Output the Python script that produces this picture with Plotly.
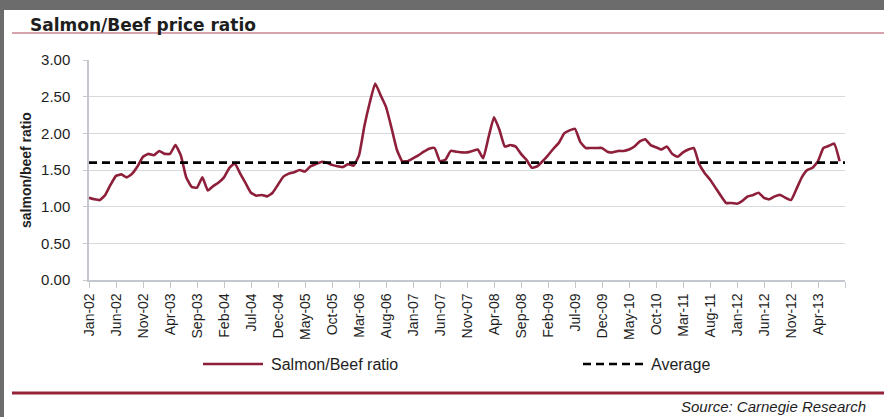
import pandas as pd
import plotly.graph_objects as go

# ---- data ----
START_MONTH = "2002-01-01"
ratio = [
    1.12, 1.10, 1.09, 1.16, 1.30, 1.42, 1.44, 1.40, 1.45, 1.55,
    1.68, 1.72, 1.70, 1.76, 1.72, 1.72, 1.84, 1.70, 1.40, 1.27,
    1.26, 1.40, 1.22, 1.28, 1.33, 1.40, 1.53, 1.59, 1.45, 1.32,
    1.19, 1.15, 1.16, 1.14, 1.19, 1.30, 1.41, 1.45, 1.47, 1.50,
    1.48, 1.55, 1.58, 1.61, 1.60, 1.57, 1.55, 1.54, 1.58, 1.56,
    1.70, 2.10, 2.42, 2.68, 2.52, 2.36, 2.08, 1.78, 1.62, 1.62,
    1.66, 1.70, 1.75, 1.79, 1.80, 1.62, 1.64, 1.76, 1.75, 1.74,
    1.74, 1.76, 1.78, 1.66, 1.95, 2.22, 2.05, 1.82, 1.84, 1.82,
    1.72, 1.64, 1.53, 1.55, 1.62, 1.70, 1.79, 1.87, 2.00, 2.04,
    2.06, 1.88, 1.80, 1.80, 1.80, 1.80, 1.75, 1.74, 1.76, 1.76,
    1.78, 1.82, 1.89, 1.92, 1.84, 1.81, 1.78, 1.82, 1.72, 1.68,
    1.74, 1.78, 1.80, 1.58, 1.46, 1.37, 1.26, 1.15, 1.05, 1.05,
    1.04, 1.08, 1.14, 1.16, 1.19, 1.12, 1.10, 1.14, 1.16, 1.12,
    1.09, 1.24, 1.40, 1.50, 1.53, 1.62, 1.80, 1.83, 1.86, 1.62,
]
average_value = 1.60
months = list(pd.date_range(START_MONTH, periods=len(ratio) + 1, freq="MS").strftime("%b-%y"))
tick_step = 5
tick_idx = list(range(0, len(ratio) + 1, tick_step))
tick_labels = [months[i] if i < len(ratio) else "" for i in tick_idx]

# ---- styling / layout (body margin removed via post_script) ----
W, H = 884, 417
L, R, T, B = 89, 39, 60, 137
PW, PH = W - L - R, H - T - B
LINE_RED = "#8e1f3a"
RULE_RED = "#962238"
GREY = "#6c6c6c"
TEXT = "#1e1e1e"
FONT = "Liberation Sans, Arial, sans-serif"


def px(x):
    """screen x (px) -> paper x"""
    return (x - L) / PW


def py(y):
    """screen y (px) -> paper y"""
    return (H - B - y) / PH


fig = go.Figure()
fig.add_trace(go.Scatter(
    x=list(range(len(ratio))), y=ratio, mode="lines", name="Salmon/Beef ratio",
    line=dict(color=LINE_RED, width=2.6, shape="spline", smoothing=0.4),
    showlegend=False,
))
fig.add_trace(go.Scatter(
    x=[0, len(ratio)], y=[average_value, average_value], mode="lines", name="Average",
    line=dict(color="#000000", width=2.6, dash="8px,5px"),
    showlegend=False,
))

shapes = [
    # grey frame: top band and left strip
    dict(type="rect", xref="paper", yref="paper", x0=px(0), x1=px(W), y0=py(10), y1=py(0),
         fillcolor=GREY, line=dict(width=0)),
    dict(type="rect", xref="paper", yref="paper", x0=px(0), x1=px(4), y0=py(H), y1=py(0),
         fillcolor=GREY, line=dict(width=0)),
    # title rule
    dict(type="line", xref="paper", yref="paper", x0=px(12), x1=px(W), y0=py(33), y1=py(33),
         line=dict(color="#b0485a", width=1.2)),
    # bottom rule
    dict(type="line", xref="paper", yref="paper", x0=px(12), x1=px(W), y0=py(393), y1=py(393),
         line=dict(color=RULE_RED, width=3)),
    # legend samples
    dict(type="line", xref="paper", yref="paper", x0=px(203), x1=px(263), y0=py(364), y1=py(364),
         line=dict(color=LINE_RED, width=2.6)),
    dict(type="line", xref="paper", yref="paper", x0=px(583), x1=px(643), y0=py(364), y1=py(364),
         line=dict(color="#000000", width=2.6, dash="8px,5px")),
]

annotations = [
    dict(text="<b>Salmon/Beef price ratio</b>", xref="paper", yref="paper", x=px(28), y=py(25),
         xanchor="left", yanchor="middle", showarrow=False,
         font=dict(family="DejaVu Sans, sans-serif", size=17, color=TEXT)),
    dict(text="Salmon/Beef ratio", xref="paper", yref="paper", x=px(269), y=py(364),
         xanchor="left", yanchor="middle", showarrow=False,
         font=dict(family=FONT, size=16, color=TEXT)),
    dict(text="Average", xref="paper", yref="paper", x=px(649), y=py(364),
         xanchor="left", yanchor="middle", showarrow=False,
         font=dict(family=FONT, size=16, color=TEXT)),
    dict(text="<i>Source: Carnegie Research</i>", xref="paper", yref="paper", x=px(868), y=py(406),
         xanchor="right", yanchor="middle", showarrow=False,
         font=dict(family=FONT, size=15, color=TEXT)),
    dict(text="<b>salmon/beef ratio</b>", xref="paper", yref="paper", x=px(26), y=py(170),
         xanchor="center", yanchor="middle", textangle=-90, showarrow=False,
         font=dict(family=FONT, size=14, color=TEXT)),
]

fig.update_layout(
    width=W, height=H, autosize=False,
    margin=dict(l=L, r=R, t=T, b=B, pad=0),
    paper_bgcolor="#ffffff", plot_bgcolor="#ffffff",
    shapes=shapes, annotations=annotations,
    showlegend=False,
    font=dict(family=FONT, size=14, color=TEXT),
    xaxis=dict(
        range=[0, len(ratio)], tickmode="array", tickvals=tick_idx, ticktext=tick_labels,
        tickangle=-90, ticks="outside", ticklen=6, tickcolor="#c4c8ce", tickwidth=1,
        showline=True, linecolor="#c4c8ce", linewidth=1.5, showgrid=False, zeroline=False,
        tickfont=dict(family=FONT, size=14, color=TEXT),
    ),
    yaxis=dict(
        range=[0, 3], dtick=0.5, tick0=0, tickformat=".2f",
        ticks="outside", ticklen=4, tickcolor="#c4c8ce",
        showline=True, linecolor="#c4c8ce", linewidth=1.5,
        showgrid=True, gridcolor="#d6dadf", gridwidth=1.2, zeroline=False,
        ticklabelstandoff=10,
        tickfont=dict(family=FONT, size=15, color=TEXT),
    ),
)

fig.write_html(
    "out.html",
    config={"displayModeBar": False},
    post_script="document.body.style.margin='0';document.body.style.overflow='hidden';",
)
